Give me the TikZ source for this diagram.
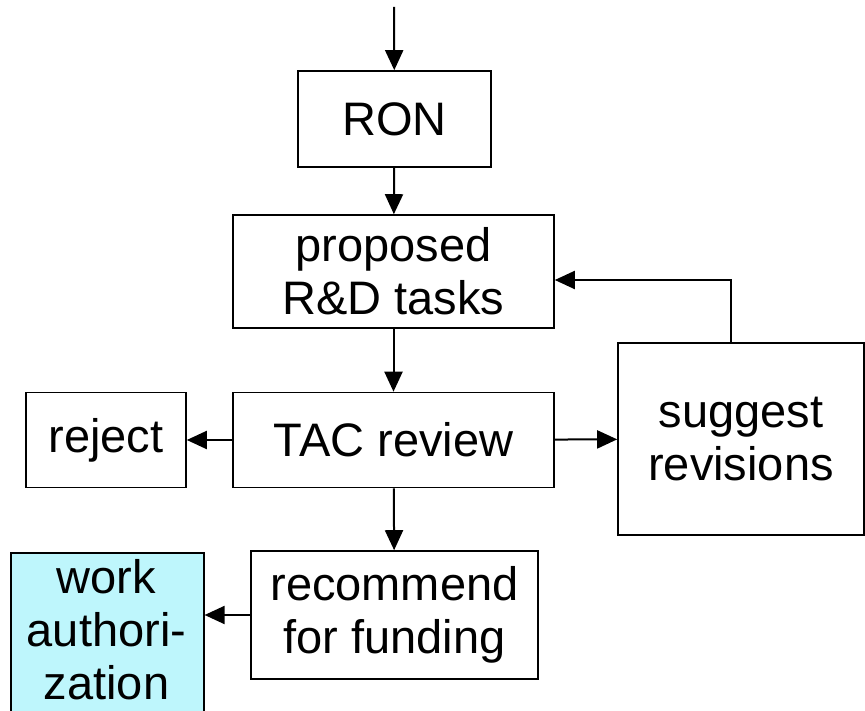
\documentclass[tikz,border=0pt]{standalone}
\usepackage{fontspec}
\setmainfont{Liberation Sans}
\usetikzlibrary{arrows.meta}
\definecolor{authcyan}{RGB}{190,246,252}

\begin{document}
\begin{tikzpicture}[
    arr/.style={line width=2pt,-{Triangle[length=20pt,width=18pt]}},
    box/.style={draw,line width=1.6pt,rectangle,inner sep=0pt,align=center,
        font=\fontsize{47}{53}\selectfont}]
                \useasboundingbox (0pt,0pt) rectangle (865pt,-711pt);
                \node[box,minimum width=193pt,minimum height=96pt] (ron) at (394.5pt,-119pt) {RON};
                \node[box,minimum width=321pt,minimum height=113pt] (tasks) at (393.5pt,-271.5pt) {proposed\\R\&D tasks};
                \node[box,minimum width=321pt,minimum height=95pt] (tac) at (393.5pt,-440pt) {TAC review};
                \node[box,minimum width=160pt,minimum height=95pt] (reject) at (106pt,-440pt) {reject};
                \node[box,minimum width=246pt,minimum height=192pt] (suggest) at (741pt,-439pt) {suggest\\revisions};
                \node[box,minimum width=287pt,minimum height=128pt] (recommend) at (394.5pt,-615pt) {recommend\\for funding};
                \node[box,fill=authcyan,minimum width=193pt,minimum height=170pt,anchor=north west] (work) at (10pt,-552pt) {};
                \node[font=\fontsize{47}{53}\selectfont,align=center,anchor=north,inner sep=0pt] (worktext) at (106.5pt,-559pt) {work\\authori-\\zation};
                \coordinate (start) at (394pt,-7pt);
                \draw [arr] (start) -- (ron);
                \draw [arr] (ron) -- (tasks);
                \draw [arr] (tasks) -- (tac);
                \draw [arr] (tac) -- (reject);
                \draw [arr] (tac) -- (suggest);
                \draw [arr] (tac) -- (recommend);
                \draw [arr] (recommend) -- (work.east |- recommend);
                \draw [arr] (suggest.north -| 731pt,0) |- (tasks.east |- 0,-280pt);
            \end{tikzpicture}
\end{document}
